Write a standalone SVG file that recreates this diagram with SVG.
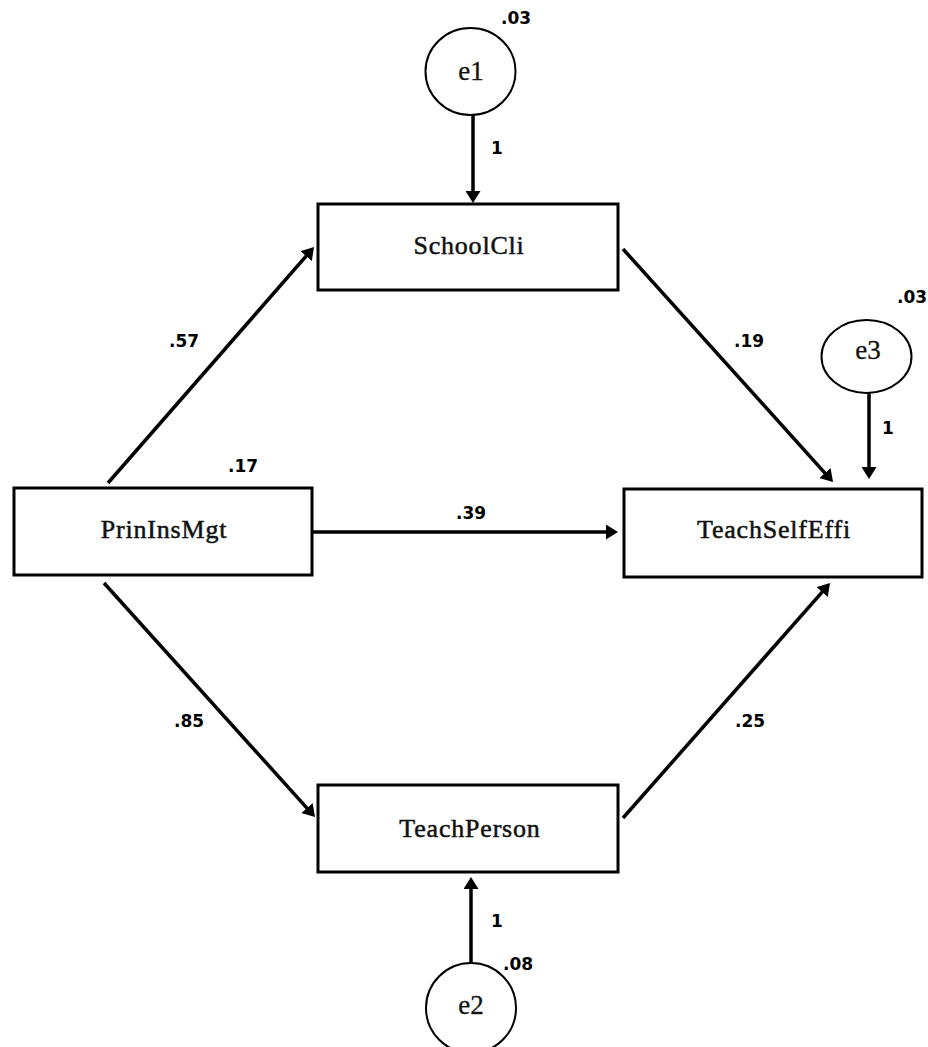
<svg xmlns="http://www.w3.org/2000/svg" width="928" height="1047" viewBox="0 0 928 1047">
<style>
.box{fill:#fff;stroke:#000;stroke-width:3}
.err{fill:#fff;stroke:#000;stroke-width:2}
.nt{font-family:"Liberation Serif","Times New Roman",serif;font-size:26px;fill:#111;stroke:#111;stroke-width:0.5px;text-anchor:middle;letter-spacing:0.8px}
.et{font-family:"Liberation Serif","Times New Roman",serif;font-size:27px;fill:#111;stroke:#111;stroke-width:0.3px;text-anchor:middle}
.lb{font-family:"DejaVu Sans",Verdana,sans-serif;font-size:17px;font-weight:bold;fill:#000}
.cn{stroke:#000;stroke-width:3.5;fill:none;marker-end:url(#ah)}
</style>
<defs>
<marker id="ah" viewBox="0 0 12 15" markerWidth="12" markerHeight="15" refX="3" refY="7.5" orient="auto" markerUnits="userSpaceOnUse">
<path d="M0,0 L12,7.5 L0,15 z" fill="#000"/>
</marker>
</defs>
<rect width="928" height="1047" fill="#fff"/>
<g id="connectors">
<line class="cn" x1="108" y1="483" x2="308.1" y2="253.8"/>
<line class="cn" x1="623" y1="249" x2="827" y2="475.3"/>
<line class="cn" x1="313" y1="532" x2="609" y2="532"/>
<line class="cn" x1="104" y1="583" x2="309" y2="810.3"/>
<line class="cn" x1="623" y1="818" x2="824.1" y2="589.8"/>
<line class="cn" x1="473" y1="115" x2="473" y2="194"/>
<line class="cn" x1="869" y1="393" x2="869" y2="470"/>
<line class="cn" x1="471" y1="963" x2="471" y2="886"/>
</g>
<g id="labels">
<text class="lb" x="169" y="347">.57</text>
<text class="lb" x="228" y="472">.17</text>
<text class="lb" x="734" y="347">.19</text>
<text class="lb" x="456" y="519">.39</text>
<text class="lb" x="174" y="727">.85</text>
<text class="lb" x="735" y="727">.25</text>
<text class="lb" x="491" y="154">1</text>
<text class="lb" x="882" y="434">1</text>
<text class="lb" x="491" y="927">1</text>
</g>
<g id="e1">
<ellipse class="err" cx="470.5" cy="71.5" rx="45" ry="43.5"/>
<text class="et" x="471" y="80">e1</text>
<text class="lb" x="501" y="24">.03</text>
</g>
<g id="e3">
<ellipse class="err" cx="866.5" cy="356.5" rx="45" ry="36.5"/>
<text class="et" x="868" y="359">e3</text>
<text class="lb" x="897" y="303">.03</text>
</g>
<g id="e2">
<ellipse class="err" cx="471" cy="1008" rx="45" ry="45"/>
<text class="et" x="471" y="1014">e2</text>
<text class="lb" x="503" y="970">.08</text>
</g>
<g id="SchoolCli">
<rect class="box" x="318" y="204" width="300" height="86"/>
<text class="nt" x="469" y="254">SchoolCli</text>
</g>
<g id="PrinInsMgt">
<rect class="box" x="14" y="488" width="298" height="87"/>
<text class="nt" x="164" y="538">PrinInsMgt</text>
</g>
<g id="TeachSelfEffi">
<rect class="box" x="624" y="489" width="298" height="88"/>
<text class="nt" x="774" y="538">TeachSelfEffi</text>
</g>
<g id="TeachPerson">
<rect class="box" x="318" y="785" width="300" height="87"/>
<text class="nt" x="470" y="837">TeachPerson</text>
</g>
</svg>
